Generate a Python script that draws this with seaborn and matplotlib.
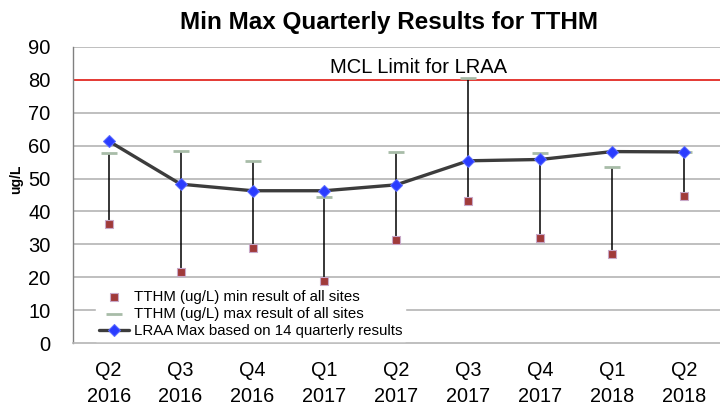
import matplotlib
matplotlib.use("Agg")
import matplotlib.pyplot as plt
import pandas as pd
import seaborn as sns
import numpy as np

quarters = ["Q2\n2016", "Q3\n2016", "Q4\n2016", "Q1\n2017", "Q2\n2017",
            "Q3\n2017", "Q4\n2017", "Q1\n2018", "Q2\n2018"]
tthm_min = [36.2, 21.7, 28.8, 18.9, 31.3, 43.3, 31.9, 27.0, 44.6]
tthm_max = [57.8, 58.5, 55.4, 44.5, 58.2, 80.5, 57.9, 53.6, 58.0]
lraa = [61.4, 48.3, 46.3, 46.3, 48.1, 55.4, 55.8, 58.2, 58.1]
mcl_limit = 80

df = pd.DataFrame({"pos": np.arange(len(quarters)), "quarter": quarters,
                   "min": tthm_min, "max": tthm_max, "lraa": lraa})

sns.set_theme(style="white")
plt.rcParams['font.family'] = ['Liberation Sans', 'DejaVu Sans']
plt.rcParams.update({"text.color": "black", "xtick.color": "black",
                     "ytick.color": "black", "axes.labelcolor": "black"})

fig = plt.figure(figsize=(7.2, 4.05), dpi=100)
ax = fig.add_axes([0.101, 0.153, 0.899, 0.731])

# gridlines
for v in range(10, 100, 10):
    ax.axhline(v, color="#b4b4b4", lw=1.2, zorder=0)

# MCL limit
ax.axhline(mcl_limit, color="#e8302a", lw=1.3, zorder=1)
ax.text(4.31, mcl_limit + 1.0, "MCL Limit for LRAA", ha="center", va="bottom",
        fontsize=14.5, color="black")

# high-low lines
ax.vlines(df["pos"], df["min"], df["max"], color="black", lw=1.1, zorder=2)

sns.scatterplot(data=df, x="pos", y="min", marker="s", s=28, color="#a03a3a",
                edgecolor="#c8a8c8", linewidth=0.8, zorder=4, ax=ax,
                label="TTHM (ug/L) min result of all sites")
sns.scatterplot(data=df, x="pos", y="max", marker="_", s=120, color="#a8bca8",
                linewidth=2, zorder=3, ax=ax,
                label="TTHM (ug/L) max result of all sites")
sns.lineplot(data=df, x="pos", y="lraa", color="#3c3c3c", lw=2.4, marker="D",
             markersize=6, markerfacecolor="#2a3cff", markeredgecolor="#5a6aff",
             zorder=5, ax=ax, label="LRAA Max based on 14 quarterly results")

ax.set_xlim(-0.5, len(quarters) - 0.5)
ax.set_ylim(0, 90)
ax.set_yticks(range(0, 100, 10))
ax.set_xticks(df["pos"])
ax.set_xticklabels(quarters, fontsize=14.3, linespacing=1.45)
ax.tick_params(axis="y", labelsize=14.5, pad=16, length=0)
ax.tick_params(axis="x", pad=13, length=0)
ax.set_xlabel("")
ax.set_ylabel("ug/L", fontsize=10, fontweight="bold")
ax.yaxis.set_label_coords(-0.076, 0.554)

for s in ["top", "right"]:
    ax.spines[s].set_visible(False)
ax.spines["left"].set_color("#808080")
ax.spines["bottom"].set_color("#b4b4b4")
ax.spines["left"].set_linewidth(1)
ax.spines["bottom"].set_linewidth(1.2)

leg = ax.legend(loc="lower left", bbox_to_anchor=(0.025, -0.018), frameon=True,
                fontsize=10.8, handlelength=2.0, handletextpad=0.3,
                labelspacing=0.2, borderpad=0.2, fancybox=False)
leg.get_frame().set_facecolor("white")
leg.get_frame().set_edgecolor("white")
leg.get_frame().set_alpha(1)

fig.suptitle("Min Max Quarterly Results for TTHM", fontsize=17.5, fontweight="bold",
             x=0.54, y=0.972, color="black")

fig.savefig("out.png", dpi=100)
